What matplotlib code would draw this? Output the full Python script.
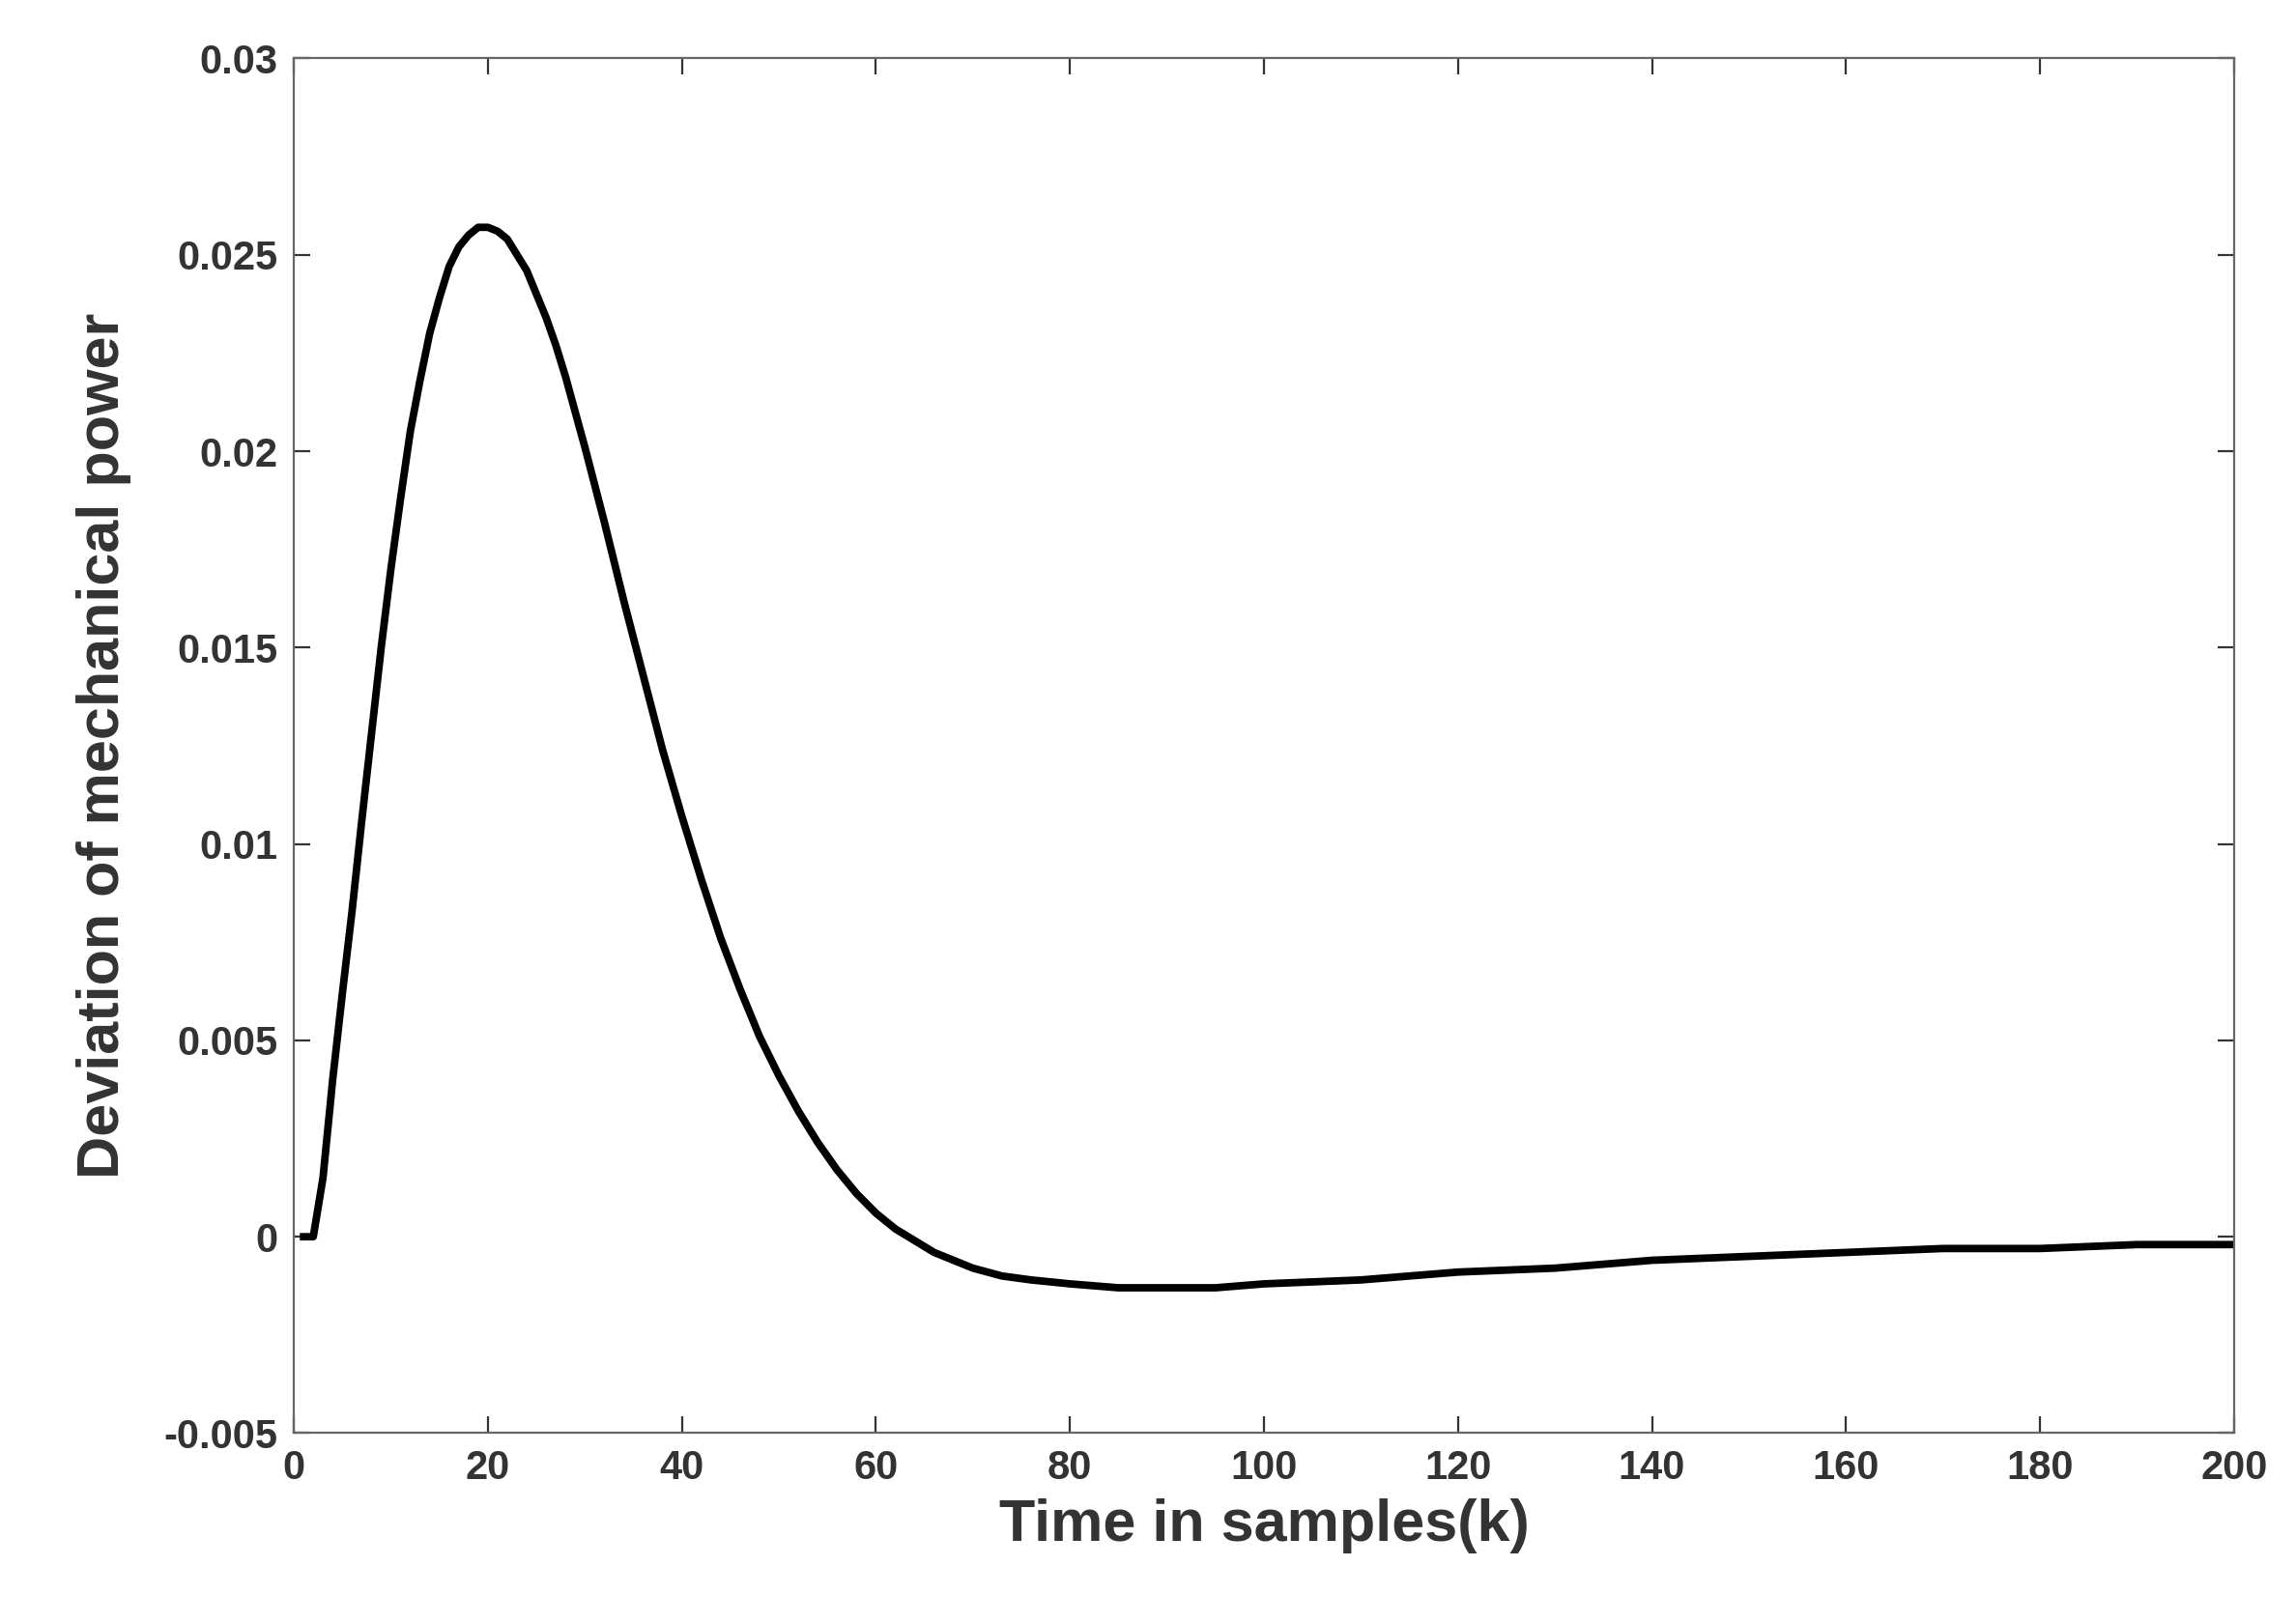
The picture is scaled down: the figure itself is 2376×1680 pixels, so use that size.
import matplotlib
matplotlib.use("Agg")
import matplotlib.pyplot as plt

# -- Data ----------------------------------------------------------------------
k_samples = [1, 2, 3, 4, 5, 6, 7, 8, 9, 10, 11, 12, 13, 14, 15, 16, 17, 18, 19,
             20, 21, 22, 23, 24, 25, 26, 27, 28, 29, 30, 32, 34, 36, 38, 40, 42,
             44, 46, 48, 50, 52, 54, 56, 58, 60, 62, 64, 66, 68, 70, 73, 76, 80,
             85, 90, 95, 100, 110, 120, 130, 140, 150, 160, 170, 180, 190, 200]
power_dev = [0.0, 0.0, 0.0015, 0.0040, 0.0062, 0.0083, 0.0106, 0.0128, 0.0150,
             0.0170, 0.0188, 0.0205, 0.0218, 0.0230, 0.0239, 0.0247, 0.0252,
             0.0255, 0.0257, 0.0257, 0.0256, 0.0254, 0.0250, 0.0246, 0.0240,
             0.0234, 0.0227, 0.0219, 0.0210, 0.0201, 0.0182, 0.0162, 0.0143,
             0.0124, 0.0107, 0.0091, 0.0076, 0.0063, 0.0051, 0.0041, 0.0032,
             0.0024, 0.0017, 0.0011, 0.0006, 0.0002, -0.0001, -0.0004, -0.0006,
             -0.0008, -0.0010, -0.0011, -0.0012, -0.0013, -0.0013, -0.0013,
             -0.0012, -0.0011, -0.0009, -0.0008, -0.0006, -0.0005, -0.0004,
             -0.0003, -0.0003, -0.0002, -0.0002]
x_ticks = [0, 20, 40, 60, 80, 100, 120, 140, 160, 180, 200]
y_ticks = [-0.005, 0, 0.005, 0.01, 0.015, 0.02, 0.025, 0.03]
y_labels = ["-0.005", "0", "0.005", "0.01", "0.015", "0.02", "0.025", "0.03"]

TEXT = "#333333"
plt.rcParams["font.family"] = ["Liberation Sans", "DejaVu Sans"]
plt.rcParams["font.weight"] = "bold"

fig = plt.figure(figsize=(11.88, 8.4), dpi=200)
ax = fig.add_axes([0.128, 0.117, 0.845, 0.847])
ax.plot(k_samples, power_dev, color="black", linewidth=2.8)

ax.set_xlim(0, 200)
ax.set_ylim(-0.005, 0.03)
ax.set_xticks(x_ticks)
ax.set_yticks(y_ticks)
ax.set_yticklabels(y_labels)
ax.tick_params(direction="in", top=True, right=True, length=6, width=0.8,
               labelsize=15, colors=TEXT, labelcolor=TEXT, pad=6)
for sp in ax.spines.values():
    sp.set_color("#666666")
    sp.set_linewidth(0.8)

ax.set_xlabel("Time in samples(k)", fontsize=22, fontweight="bold", color=TEXT,
              labelpad=4)
ax.set_ylabel("Deviation of mechanical power", fontsize=22, fontweight="bold",
              color=TEXT, labelpad=12)

plt.savefig("out.png", dpi=200)
